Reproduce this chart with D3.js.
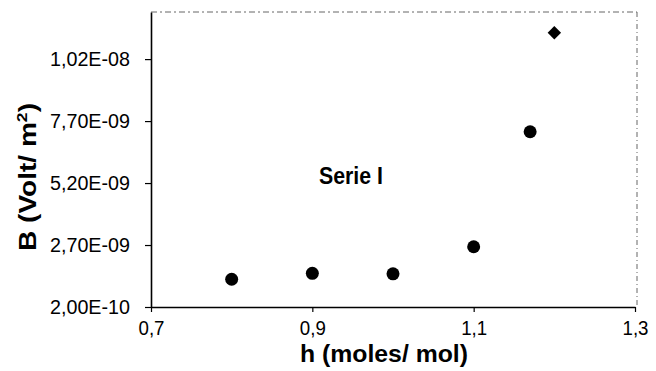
<!DOCTYPE html>
<html>
<head>
<meta charset="utf-8">
<script src="https://cdn.jsdelivr.net/npm/d3@7"></script>
<style>
  html, body { margin: 0; padding: 0; background: #fff; }
  svg { display: block; font-family: "Liberation Sans", Arial, sans-serif; }
</style>
</head>
<body>
<svg id="chart" width="656" height="371"></svg>
<script>
// ---- data ----
const hValues = [0.80, 0.90, 1.00, 1.10, 1.17, 1.20];
const bValues = [1.32e-9, 1.56e-9, 1.54e-9, 2.63e-9, 7.27e-9, 1.126e-8];
const markerShapes = ["circle", "circle", "circle", "circle", "circle", "diamond"];
const xTickValues = [0.7, 0.9, 1.1, 1.3];
const xTickLabels = ["0,7", "0,9", "1,1", "1,3"];
const yTickValues = [2.0e-10, 2.7e-9, 5.2e-9, 7.7e-9, 1.02e-8];
const yTickLabels = ["2,00E-10", "2,70E-09", "5,20E-09", "7,70E-09", "1,02E-08"];
const xDomain = [0.7, 1.3];
const yDomain = [2.0e-10, 1.21e-8];
const seriesLabel = "Serie I";
const xTitle = "h (moles/ mol)";

// ---- layout ----
const mLeft = 151, mRight = 635, mTop = 12, mBottom = 307;
const svg = d3.select("#chart");
const x = d3.scaleLinear().domain(xDomain).range([mLeft, mRight]);
const y = d3.scaleLinear().domain(yDomain).range([mBottom, mTop]);

// frame (top and right dashed, faint)
svg.append("line").attr("x1", mLeft).attr("x2", mRight + 2).attr("y1", mTop).attr("y2", mTop)
  .attr("stroke", "#666").attr("stroke-width", 1).attr("stroke-dasharray", "6,3,2,3");
svg.append("line").attr("x1", mRight + 2).attr("x2", mRight + 2).attr("y1", mTop).attr("y2", mBottom)
  .attr("stroke", "#666").attr("stroke-width", 1).attr("stroke-dasharray", "5,3,1,3");

// x axis
const xAxis = svg.append("g").attr("transform", `translate(0,${mBottom})`)
  .call(d3.axisBottom(x).tickValues(xTickValues)
    .tickFormat((d, i) => xTickLabels[i]).tickSize(5).tickPadding(9).tickSizeOuter(0));
xAxis.select(".domain").attr("stroke", "#000").attr("stroke-width", 1.6);
xAxis.selectAll(".tick line").attr("stroke", "#000").attr("stroke-width", 1.2);
xAxis.selectAll(".tick text").attr("font-size", 20).attr("fill", "#000")
  .attr("font-family", "'Liberation Sans', Arial, sans-serif")
  .attr("textLength", 26).attr("lengthAdjust", "spacingAndGlyphs");

// y axis
const yAxis = svg.append("g").attr("transform", `translate(${mLeft},0)`)
  .call(d3.axisLeft(y).tickValues(yTickValues)
    .tickFormat((d, i) => yTickLabels[i]).tickSize(6).tickPadding(15).tickSizeOuter(0));
yAxis.select(".domain").attr("stroke", "#000").attr("stroke-width", 1.6);
yAxis.selectAll(".tick line").attr("stroke", "#000").attr("stroke-width", 1.2);
yAxis.selectAll(".tick text").attr("font-size", 20).attr("fill", "#000")
  .attr("font-family", "'Liberation Sans', Arial, sans-serif")
  .attr("textLength", 80).attr("lengthAdjust", "spacingAndGlyphs");

// points
const pts = svg.append("g");
hValues.forEach((h, i) => {
  const cx = x(h), cy = y(bValues[i]);
  if (markerShapes[i] === "diamond") {
    pts.append("path")
      .attr("d", d3.symbol().type(d3.symbolSquare).size(90)())
      .attr("transform", `translate(${cx},${cy}) rotate(45)`)
      .attr("fill", "#000");
  } else {
    pts.append("circle").attr("cx", cx).attr("cy", cy).attr("r", 6.5).attr("fill", "#000");
  }
});

// series label
svg.append("text").attr("x", 351).attr("y", 184).attr("text-anchor", "middle")
  .attr("font-size", 23).attr("font-weight", "bold")
  .attr("textLength", 64).attr("lengthAdjust", "spacingAndGlyphs")
  .text(seriesLabel);

// x title
svg.append("text").attr("x", 384).attr("y", 362).attr("text-anchor", "middle")
  .attr("font-size", 23).attr("font-weight", "bold")
  .attr("textLength", 168).attr("lengthAdjust", "spacingAndGlyphs")
  .text(xTitle);

// y title
const yt = svg.append("text").attr("transform", "translate(36,177) rotate(-90)")
  .attr("text-anchor", "middle").attr("font-size", 24).attr("font-weight", "bold")
  .attr("textLength", 148).attr("lengthAdjust", "spacingAndGlyphs");
yt.append("tspan").text("B (Volt/ m");
yt.append("tspan").attr("dy", -9).attr("font-size", 15).text("2");
yt.append("tspan").attr("dy", 9).text(")");
</script>
</body>
</html>
